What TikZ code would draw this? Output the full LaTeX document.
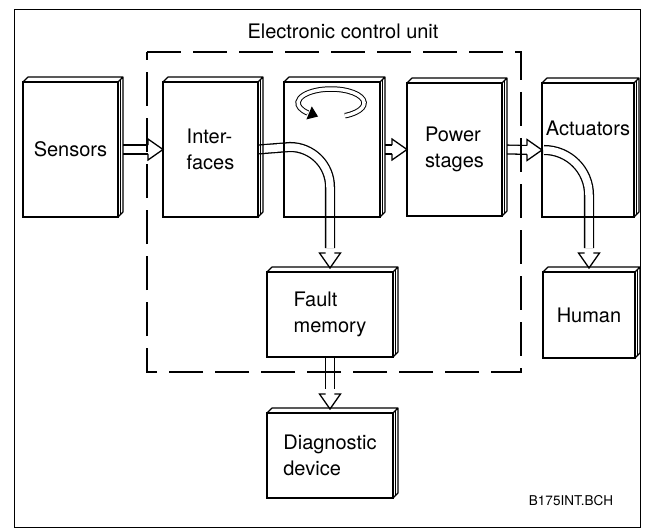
\documentclass[tikz,border=0pt]{standalone}
\usepackage{fontspec}
\setmainfont{TeX Gyre Heros}
\usetikzlibrary{calc}
\begin{document}
\begin{tikzpicture}[x=1pt,y=-1pt,
  blk/.style 2 args={draw, line width=1.4pt, minimum width=#1, minimum height=#2, inner sep=0pt, outer sep=0pt, align=left, font=\fontsize{20}{26}\selectfont},
  face/.style={draw, line width=1.1pt, line join=round},
  hatch/.style={draw, line width=0.5pt},
  band/.style={draw, line width=1.3pt, double=white, double distance=7.5pt},
  ring/.style={draw, line width=1pt, double=white, double distance=3.5pt},
  headstyle/.style={fill=white, draw, line width=1.3pt, line join=miter},
  headR/.pic={\path[headstyle] (-15,-4.4) -- (-15,-10.5) -- (0,0) -- (-15,10.5) -- (-15,4.4);},
  headD/.pic={\path[headstyle] (-4.4,-15) -- (-10.5,-15) -- (0,0) -- (10.5,-15) -- (4.4,-15);},
  ecu/.style={draw, line width=2.6pt, dash pattern=on 34pt off 12pt},
  lbl/.style={font=\fontsize{20}{26}\selectfont}
]
\useasboundingbox (0,0) rectangle (645,532);
% outer frame
\draw[line width=0.9pt] (14,9) rectangle (640,527);
% title
\node[lbl] (title) at (343,31) {Electronic control unit};

% blocks
\path
  node[blk={95}{135}] (sen) at (70.5,149.5) {Sensors}
  node[blk={95}{135}] (int) at (210.5,149.5) {Inter-\\faces}
  node[blk={96}{135}] (pro) at (332,149.5) {}
  node[blk={95}{133}] (pow) at (454.5,149.5) {Power\\stages}
  node[blk={92}{134}] (act) at (588,150) {}
  node[blk={126}{85}] (fau) at (330,314.5) {Fault\\memory}
  node[blk={126}{85}] (dia) at (330,455.5) {Diagnostic\\device}
  node[blk={92}{86}] (hum) at (589,315) {Human};
\node[lbl] (actl) at ($(act.center)+(0,-22)$) {Actuators};

% connectors (hollow band arrows)
\draw[band] ($(sen.east)+(5,0)$) -- ($(int.west)+(-14,0)$);
\pic at (int.west) {headR};

\draw[band] ($(pro.east)+(5,0)$) -- ($(pow.west)+(-14,0)$);
\pic at (pow.west) {headR};

\draw[band] ($(pow.east)+(5,0)$) -- ($(act.west)+(-14,0)$);
\pic at (act.west) {headR};

\draw[band] (int.east) -- ($(fau.north)+(-40,-125)$) arc[start angle=-90, end angle=0, radius=40] -- ($(fau.north)+(0,-24)$);
\pic at ($(fau.north)+(0,-4)$) {headD};

\draw[band] ($(act.west)+(2,0)$) arc[start angle=-90, end angle=0, radius=45] -- ($(hum.north)+(0,-24)$);
\pic at ($(hum.north)+(0,-4)$) {headD};

\draw[band] (fau.south) -- ($(dia.north)+(0,-24)$);
\pic at ($(dia.north)+(0,-4)$) {headD};

% circular arrow in the processing block
\draw[ring] (345,115.7) arc[start angle=65, end angle=-225, x radius=33, y radius=14];
\fill (318,116.5) -- (306.4,119.4) -- (311.8,106.4) -- cycle;

% block outlines on top
\foreach \n in {sen,int,pro,pow,act,fau,dia,hum}{
  \draw[line width=1.4pt] (\n.north west) rectangle (\n.south east);
  \draw[face] (\n.north west) -- ++(5,-5) -- ($(\n.north east)+(5,-5)$) -- ($(\n.south east)+(5,-5)$) -- (\n.south east)
              (\n.north east) -- ++(5,-5);
  \draw[hatch] ($(\n.north east)+(2.5,-2.5)$) -- ($(\n.south east)+(2.5,-2.5)$);
}

% ECU boundary
\draw[ecu] (147,52) -- (521,52) -- (521,372) -- (147,372) -- cycle;

% drawing reference
\node[font=\fontsize{13.5}{16}\selectfont] (ref) at (571,501) {B175INT.BCH};
\end{tikzpicture}
\end{document}
